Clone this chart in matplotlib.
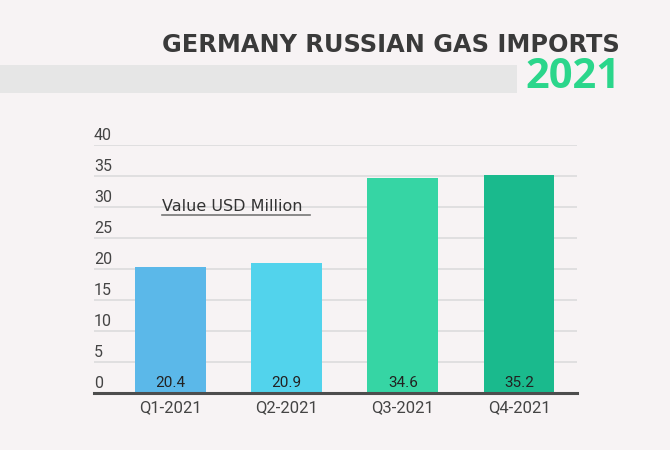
import matplotlib
matplotlib.use("Agg")
import matplotlib.pyplot as plt
from matplotlib.patches import Rectangle
from matplotlib.lines import Line2D

categories = ["Q1-2021", "Q2-2021", "Q3-2021", "Q4-2021"]
values = [20.4, 20.9, 34.6, 35.2]
value_labels = ["20.4", "20.9", "34.6", "35.2"]
yticks = [0, 5, 10, 15, 20, 25, 30, 35, 40]
colors = ["#5bb8e9", "#52d3ec", "#36d5a4", "#1aba8d"]

W, H = 670, 450
bg = "#f7f3f4"
fig = plt.figure(figsize=(W/100, H/100), dpi=100, facecolor=bg)

def fx(px): return px / W
def fy(py): return 1 - py / H

# header band
fig.patches.append(Rectangle((0, fy(93)), fx(517), (93-65)/H, transform=fig.transFigure,
                             facecolor="#e6e6e6", edgecolor="none", zorder=0))
fig.text(fx(620), fy(45), "GERMANY RUSSIAN GAS IMPORTS", ha="right", va="center",
         fontsize=17.3, fontweight="bold", color="#3a3a3a", family="DejaVu Sans")
fig.text(fx(621), fy(78), "2021", ha="right", va="center",
         fontsize=30, fontweight="bold", color="#2bd68b", family="Open Sans")

left, right, top, bottom = 94, 577, 145, 393
ax = fig.add_axes([fx(left), fy(bottom), fx(right-left), (bottom-top)/H])
ax.set_facecolor(bg)
x = list(range(len(categories)))
ax.bar(x, values, width=0.61, color=colors, zorder=2)
ax.set_xlim(-0.66, 3.5)
ax.set_ylim(0, 40)
for v in yticks[1:]:
    ax.axhline(v, color="#dcdcdc", lw=1.2, zorder=1)
for s in ax.spines.values():
    s.set_visible(False)
ax.axhline(0, color="#4d4d4d", lw=2.2, zorder=3, clip_on=False)
ax.set_yticks([])
ax.set_xticks(x)
ax.set_xticklabels(categories, fontsize=12, color="#444444", family="Roboto")
ax.tick_params(axis="x", length=0, pad=5)
for v in yticks:
    ax.text(-0.66, v + 0.35, str(v), ha="left", va="bottom", fontsize=11.5,
            color="#444444", family="Roboto")
for xi, lab in zip(x, value_labels):
    ax.text(xi, 0.5, lab, ha="center", va="bottom", fontsize=11,
            color="#222222", family="Roboto", zorder=4)

fig.text(fx(162), fy(206), "Value USD Million", ha="left", va="center",
         fontsize=11.5, color="#333333", family="DejaVu Sans")
fig.lines.append(Line2D([fx(162), fx(310)], [fy(215), fy(215)], transform=fig.transFigure,
                        color="#777777", lw=1.2))

fig.savefig("out.png", dpi=100, facecolor=bg)
